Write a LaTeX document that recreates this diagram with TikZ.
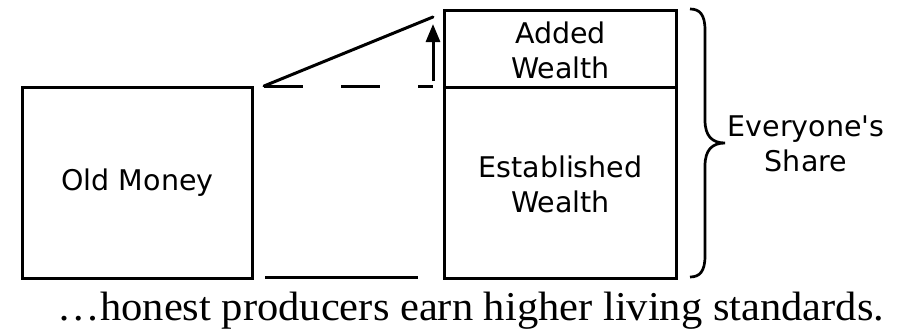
\documentclass[tikz,border=0pt]{standalone}
\usepackage{fontspec}
\setmainfont{Liberation Serif}
\newfontfamily\lblfont{DejaVu Sans}
\usetikzlibrary{arrows.meta}
\tikzset{
  box/.style={draw, line width=3pt, line join=miter, inner sep=0pt},
  lbl/.style={font=\lblfont\fontsize{28.5}{35}\selectfont, align=center, inner sep=0pt},
  ln/.style={line width=3pt},
}
\begin{document}
\begin{tikzpicture}[x=1pt,y=-1pt]
\useasboundingbox (0,0) rectangle (905,335);
% Old Money box
\node[box, minimum width=230pt, minimum height=191pt, anchor=north west] (old) at (21,86) {};
\node[lbl] (oldt) at (old.center) {Old Money};
% right box parts
\node[box, minimum width=232pt, minimum height=77pt, anchor=north west] (added) at (443,9) {};
\node[box, minimum width=232pt, minimum height=191pt, anchor=north west] (est) at (443,86) {};
\node[lbl] (addedt) at ([yshift=-1pt]added.center) {Added\\Wealth};
\node[lbl] (estt) at ([yshift=-1pt]est.center) {Established\\Wealth};
% connectors
\coordinate (b1) at (265,277);
\coordinate (b2) at (418,277);
\coordinate (d1) at (264,86);
\coordinate (d2) at (433,86);
\coordinate (s2) at (433,17);
\coordinate (a1) at (433,81);
\coordinate (a2) at (433,24);
\draw[ln] (b1) -- (b2);
\draw[ln, dash pattern=on 39pt off 38pt] (d1) -- (d2);
\draw[ln, line cap=round] (d1) -- (s2);
\draw[ln, -{Triangle[length=18pt,width=14pt]}] (a1) -- (a2);
% brace
\coordinate (br0) at (690,9);
\coordinate (brtip) at (725,143);
\coordinate (br1) at (690,277);
\draw[line width=2.7pt] (br0) .. controls (700,9) and (705,15) .. (705,30)
  -- (705,120) .. controls (705,136) and (712,143) .. (brtip)
  .. controls (712,143) and (705,150) .. (705,166)
  -- (705,256) .. controls (705,271) and (700,277) .. (br1);
\node[lbl] (share) at (806,144) {Everyone's\\Share};
% caption
\node[inner sep=0pt, anchor=base] (cap) at (471,320) {\scalebox{1.037}[1]{\fontsize{41}{44}\selectfont …honest producers earn higher living standards.}};
\end{tikzpicture}
\end{document}
